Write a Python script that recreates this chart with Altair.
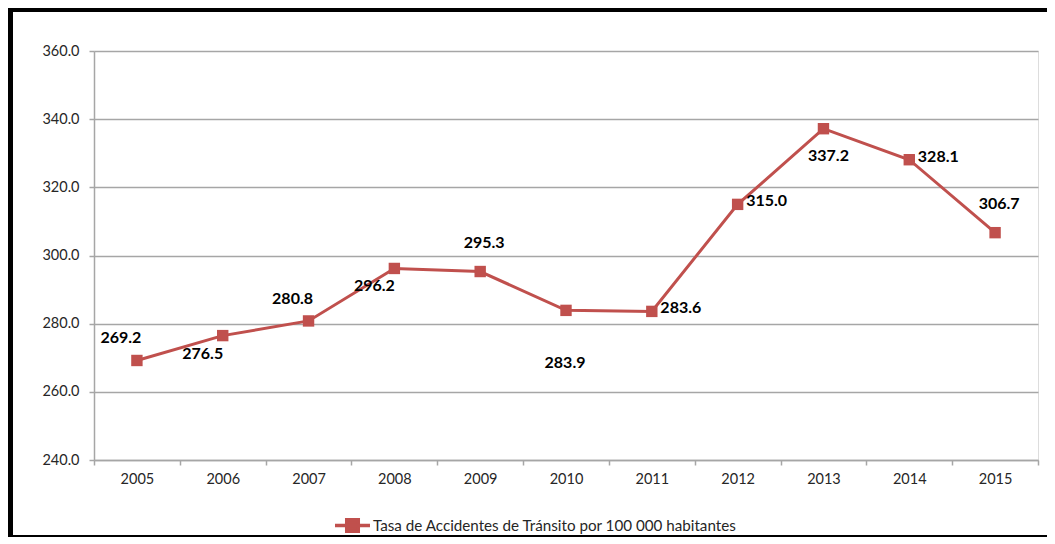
import altair as alt
import pandas as pd

years = ["2005", "2006", "2007", "2008", "2009", "2010", "2011", "2012", "2013", "2014", "2015"]
rates = [269.2, 276.5, 280.8, 296.2, 295.3, 283.9, 283.6, 315.0, 337.2, 328.1, 306.7]
label_side = ["upper-left", "lower-left", "upper-left", "lower-left", "above", "far-below",
              "right", "right", "below", "right", "above"]
series_name = "Tasa de Accidentes de Tránsito por 100 000 habitantes"
y_ticks = [240, 260, 280, 300, 320, 340, 360]

RED = "#C0504D"
FONT = "Lato"

df = pd.DataFrame({"year": years, "rate": rates, "side": label_side,
                   "serie": [series_name] * len(years)})

# label offsets per placement (style)
side_offsets = {
    "upper-left": (-16, -22),
    "lower-left": (-20, 18),
    "above": (4, -29),
    "below": (5, 27),
    "far-below": (-1, 53),
    "right": (29, -3),
}

W, H = 944, 409

x_enc = alt.X("year:N", sort=years, title=None,
              scale=alt.Scale(paddingInner=0, paddingOuter=0),
              axis=alt.Axis(labelAngle=0, tickBand="extent", grid=False,
                            domainColor="#A6A6A6", domainWidth=1.5,
                            tickColor="#A6A6A6", tickWidth=1.5, tickSize=5,
                            labelPadding=7, labelFontSize=14.5, labelFont=FONT,
                            labelColor="#262626"))
y_enc = alt.Y("rate:Q", title=None,
              scale=alt.Scale(domain=[240, 360], nice=False, zero=False),
              axis=alt.Axis(values=y_ticks, format=".1f", grid=True,
                            gridColor="#A6A6A6", gridWidth=1.5,
                            domainColor="#A6A6A6", domainWidth=1.5,
                            tickColor="#A6A6A6", tickWidth=1.5, tickSize=5,
                            labelPadding=10, labelFontSize=14.5, labelFont=FONT,
                            labelColor="#262626"))

legend_symbol = "M-1,0H1M-0.33,-0.33H0.33V0.33H-0.33Z"
color_enc = alt.Color(
    "serie:N", title=None,
    scale=alt.Scale(domain=[series_name], range=[RED]),
    legend=alt.Legend(
        orient="none", legendX=239, legendY=455,
        symbolType=legend_symbol, symbolSize=1225, symbolStrokeWidth=3.5,
        symbolFillColor=RED, symbolStrokeColor=RED,
        labelFontSize=15.2, labelFont=FONT, labelColor="#262626",
        labelOffset=1, labelLimit=0,
    ))

base = alt.Chart(df)

line = base.mark_line(strokeWidth=3).encode(x=x_enc, y=y_enc, color=color_enc)
points = base.mark_point(shape="square", filled=True, size=130, opacity=1, color=RED).encode(
    x=x_enc, y=y_enc)

label_layers = []
for side, (dx, dy) in side_offsets.items():
    label_layers.append(
        base.transform_filter(alt.datum.side == side)
        .mark_text(dx=dx, dy=dy, fontSize=16, fontWeight="bold", font=FONT,
                   color="#000000", align="center", baseline="middle")
        .encode(x=alt.X("year:N", sort=years), y="rate:Q",
                text=alt.Text("rate:Q", format=".1f"))
    )

frame_df = pd.DataFrame({"k": [0]})
frame_top = alt.Chart(frame_df).mark_rect(color="#000000").encode(
    x=alt.value(-86), x2=alt.value(W + 9), y=alt.value(-43), y2=alt.value(-39))
frame_left = alt.Chart(frame_df).mark_rect(color="#000000").encode(
    x=alt.value(-86), x2=alt.value(-81), y=alt.value(-43), y2=alt.value(H + 77))
frame_bottom = alt.Chart(frame_df).mark_rect(color="#000000").encode(
    x=alt.value(-86), x2=alt.value(W + 9), y=alt.value(H + 75), y2=alt.value(H + 77))

chart = alt.layer(line, points, *label_layers, frame_top, frame_left, frame_bottom).properties(
    width=W, height=H,
    autosize=alt.AutoSizeParams(type="none"),
    padding={"left": 86, "top": 43, "right": 9, "bottom": 77},
).configure_view(stroke=None).configure(background="#FFFFFF")

chart.save("out.html", embed_options={"renderer": "svg", "actions": False})
